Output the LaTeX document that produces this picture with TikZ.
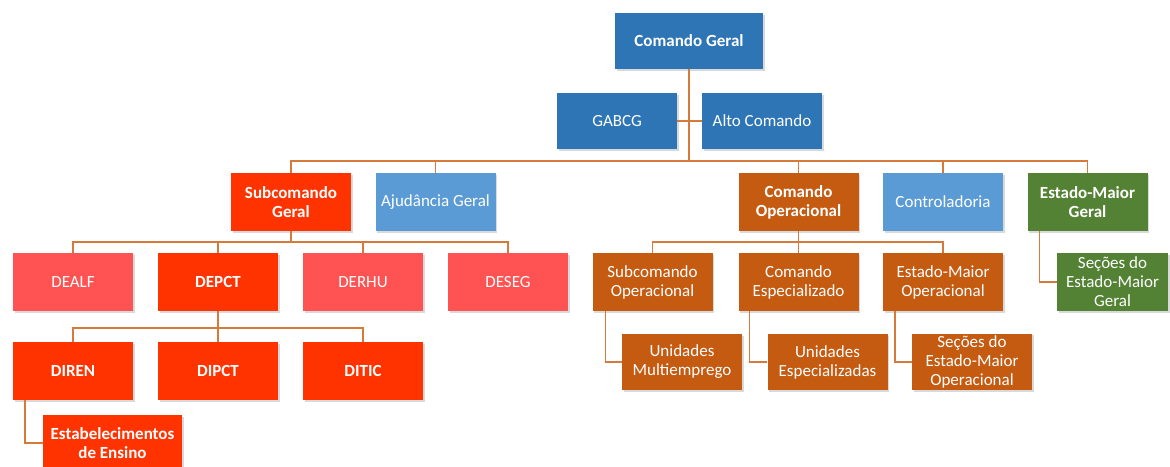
\documentclass[tikz,border=0pt]{standalone}
\usepackage{fontspec}
\setmainfont{Carlito}
\usetikzlibrary{shadows,positioning}

\definecolor{azul}{HTML}{2E75B6}
\definecolor{azulclaro}{HTML}{5B9BD5}
\definecolor{vermelho}{HTML}{FF3300}
\definecolor{rosa}{HTML}{FF5252}
\definecolor{laranja}{HTML}{C55A11}
\definecolor{verde}{HTML}{548235}
\definecolor{linha}{HTML}{D67A3C}

\begin{document}
\begin{tikzpicture}[
        x=1pt, y=-1pt,                  % coordenadas em pixels
        every node/.style={font=\fontsize{17}{19}\selectfont},
        box/.style={
            rectangle,
            text=white,
            align=center,
            inner sep=2pt,
            minimum width=120pt,
            minimum height=58pt,
            drop shadow={opacity=0.3, shadow xshift=1.5pt, shadow yshift=-1.5pt}
        },
        forte/.style={font=\fontsize{17}{19}\selectfont\bfseries},
        link/.style={draw=linha, line width=1.4pt}
    ]
    \useasboundingbox (0,0) rectangle (1170,466);

    % topo
    \node[box, forte, fill=azul, minimum width=148pt, minimum height=56pt] (cg) at (689,41) {Comando Geral};
    \node[box, fill=azul, minimum height=56pt] (gab) at (617,121) {GABCG};
    \node[box, fill=azul, minimum height=56pt] (alto) at (762,121) {Alto Comando};

    % segundo nivel
    \node[box, forte, fill=vermelho] (sg) at (291,202) {Subcomando\\Geral};
    \node[box, fill=azulclaro] (ajg) at (435.5,202) {Ajudância Geral};
    \node[box, forte, fill=laranja] (cop) at (798.5,202) {Comando\\Operacional};
    \node[box, fill=azulclaro] (ctrl) at (943,202) {Controladoria};
    \node[box, forte, fill=verde] (emg) at (1087.5,202) {Estado-Maior\\Geral};

    % diretorias
    \node[box, fill=rosa] (dealf) at (73,282) {DEALF};
    \node[box, forte, fill=vermelho] (depct) at (218,282) {DEPCT};
    \node[box, fill=rosa] (derhu) at (363,282) {DERHU};
    \node[box, fill=rosa] (deseg) at (508,282) {DESEG};

    \node[box, forte, fill=vermelho] (diren) at (73,371) {DIREN};
    \node[box, forte, fill=vermelho] (dipct) at (218,371) {DIPCT};
    \node[box, forte, fill=vermelho] (ditic) at (363,371) {DITIC};
    \node[box, forte, fill=vermelho, minimum width=139pt, minimum height=56pt] (estab) at (112.5,443) {Estabelecimentos\\de Ensino};

    % operacional
    \node[box, fill=laranja] (sop) at (652.5,282) {Subcomando\\Operacional};
    \node[box, fill=laranja] (cesp) at (798.5,282) {Comando\\Especializado};
    \node[box, fill=laranja] (emo) at (943,282) {Estado-Maior\\Operacional};

    \node[box, fill=laranja, minimum height=56pt] (umult) at (682,362) {Unidades\\Multiemprego};
    \node[box, fill=laranja, minimum height=56pt] (uesp) at (827.5,362) {Unidades\\Especializadas};
    \node[box, fill=laranja, minimum height=56pt] (semo) at (972,362) {Seções do\\Estado-Maior\\Operacional};

    \node[box, fill=verde, minimum width=111pt] (semg) at (1112.5,282) {Seções do\\Estado-Maior\\Geral};

    % ligacoes
    \begin{scope}[on background layer/.try]
    \draw[link] (cg.south) -- (cg.south |- 0,161);
    \draw[link] (gab.east) -- (alto.west);
    \foreach \n in {sg, ajg, cop, ctrl, emg}
        \draw[link] (cg.south |- 0,161) -| (\n.north);
    \foreach \n in {dealf, depct, derhu, deseg}
        \draw[link] (sg.south) -- (sg.south |- 0,242) -| (\n.north);
    \foreach \n in {sop, cesp, emo}
        \draw[link] (cop.south) -- (cop.south |- 0,242) -| (\n.north);
    \foreach \n in {diren, dipct, ditic}
        \draw[link] (depct.south) -- (depct.south |- 0,328) -| (\n.north);
    \draw[link] ([xshift=12pt]diren.south west) |- (estab.west);
    \draw[link] ([xshift=13pt]sop.south west) |- (umult.west);
    \draw[link] ([xshift=11pt]cesp.south west) |- (uesp.west);
    \draw[link] ([xshift=12pt]emo.south west) |- (semo.west);
    \draw[link] ([xshift=12pt]emg.south west) |- (semg.west);
    \end{scope}
\end{tikzpicture}
\end{document}
